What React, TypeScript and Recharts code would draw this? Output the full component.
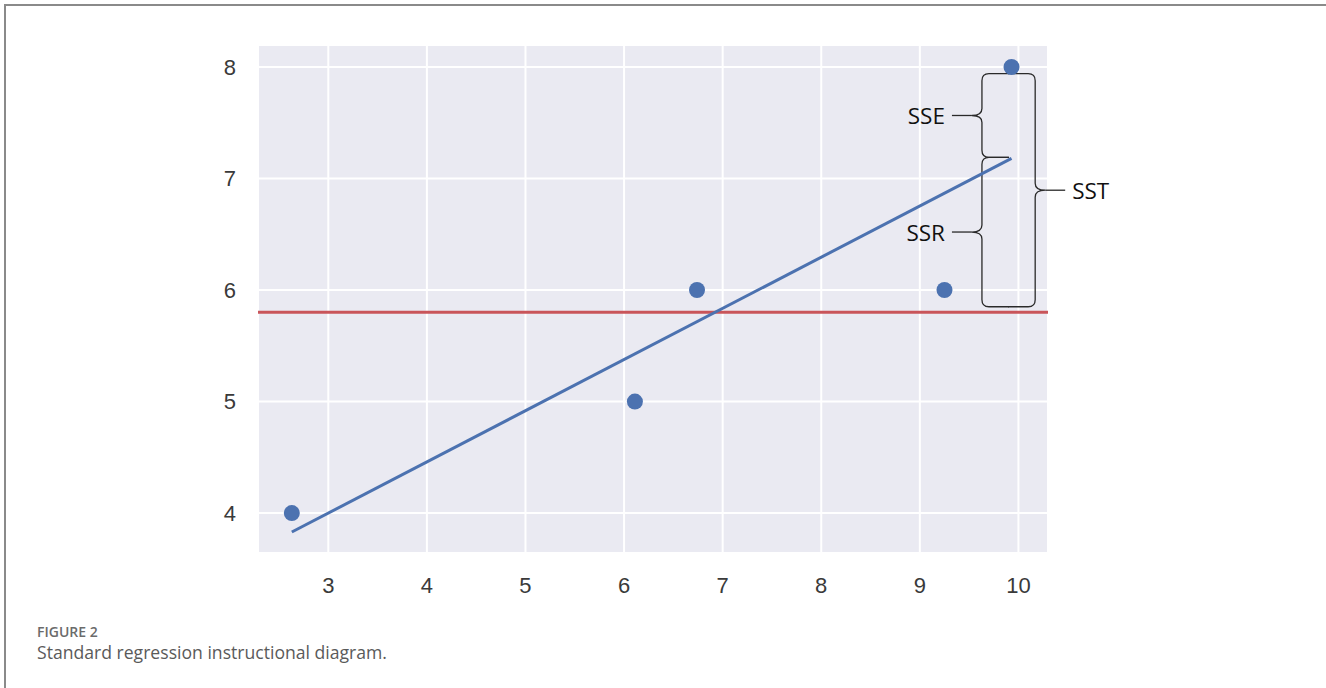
import React from 'react';
import { ScatterChart, Scatter, XAxis, YAxis, CartesianGrid, ReferenceLine } from 'recharts';

// observed points
const xValues = [2.63, 6.11, 6.74, 9.25, 9.93];
const yValues = [4, 5, 6, 6, 8];

// fitted regression line end points
const fitX = [2.63, 9.93];
const fitY = [3.83, 7.18];

// mean of y
const meanY = 5.8;

const xTicks = [3, 4, 5, 6, 7, 8, 9, 10];
const yTicks = [4, 5, 6, 7, 8];

// brace annotations (data coordinates)
const braceLabels = ['SSE', 'SSR', 'SST'];
const braceX = [9.63, 9.63, 10.17];
const braceTop = [7.94, 7.19, 7.94];
const braceBottom = [7.19, 5.85, 5.85];
const braceSide = ['left', 'left', 'right'];

const points = xValues.map((x, i) => ({ x, y: yValues[i] }));
const fitLine = fitX.map((x, i) => ({ x, y: fitY[i] }));

const BLUE = '#4c72b0';
const RED = '#c9555a';

const makeBrace = (label: string, side: string) => (p: any) => {
  const x = p.x1;
  const yt = Math.min(p.y1, p.y2);
  const yb = Math.max(p.y1, p.y2);
  const ym = (yt + yb) / 2;
  const s = side === 'left' ? 1 : -1; // hooks point toward +s, tip toward -s
  const h = 27;
  const r = 7;
  const d = 10;
  const path = [
    `M ${x + s * h} ${yt}`,
    `L ${x + s * r} ${yt}`,
    `Q ${x} ${yt} ${x} ${yt + r}`,
    `L ${x} ${ym - r}`,
    `Q ${x} ${ym} ${x - s * d} ${ym}`,
    `Q ${x} ${ym} ${x} ${ym + r}`,
    `L ${x} ${yb - r}`,
    `Q ${x} ${yb} ${x + s * r} ${yb}`,
    `L ${x + s * h} ${yb}`,
  ].join(' ');
  const tipX = x - s * d;
  const leadEnd = tipX - s * 20;
  return (
    <g>
      <path d={path} fill="none" stroke="#2a2a2a" strokeWidth={1.3} />
      <line x1={tipX} y1={ym} x2={leadEnd} y2={ym} stroke="#2a2a2a" strokeWidth={1.3} />
      <text
        x={leadEnd - s * 7}
        y={ym}
        textAnchor={side === 'left' ? 'end' : 'start'}
        dominantBaseline="central"
        fontFamily="'Open Sans', sans-serif"
        fontSize={22.5}
        fill="#111"
      >
        {label}
      </text>
    </g>
  );
};

const tickStyle = { fontFamily: "'Liberation Sans', Arial, sans-serif", fontSize: 22, fill: '#3a3a3a' };

export default function App() {
  return (
    <div style={{ position: 'absolute', left: 0, top: 0, width: 1326, height: 688, background: '#fff', overflow: 'hidden' }}>
      <div
        style={{
          position: 'absolute',
          left: 4,
          top: 4,
          width: 1340,
          height: 700,
          borderTop: '2px solid #8a8a8a',
          borderLeft: '2px solid #8a8a8a',
        }}
      />
      <div style={{ position: 'absolute', left: 0, top: 0 }}>
        <ScatterChart width={1326} height={688} margin={{ top: 45, right: 278, bottom: 0, left: 0 }}>
          <CartesianGrid fill="#eaeaf2" stroke="#ffffff" strokeWidth={2} />
          <XAxis
            type="number"
            dataKey="x"
            domain={[2.287, 10.3]}
            ticks={xTicks}
            allowDataOverflow
            height={135}
            axisLine={false}
            tickLine={false}
            tickSize={0}
            tickMargin={24}
            tick={tickStyle}
          />
          <YAxis
            type="number"
            dataKey="y"
            domain={[3.642, 8.197]}
            ticks={yTicks}
            allowDataOverflow
            width={258}
            axisLine={false}
            tickLine={false}
            tickSize={0}
            tickMargin={22}
            tick={tickStyle}
          />
          <ReferenceLine y={meanY} stroke={RED} strokeWidth={3} />
          <Scatter
            data={fitLine}
            line={{ stroke: BLUE, strokeWidth: 3 }}
            shape={() => <g />}
            isAnimationActive={false}
          />
          <Scatter
            data={points}
            fill={BLUE}
            shape={(p: any) => <circle cx={p.cx} cy={p.cy} r={8} fill={BLUE} />}
            isAnimationActive={false}
          />
          {braceLabels.map((label, i) => (
            <ReferenceLine
              key={label}
              ifOverflow="visible"
              segment={[
                { x: braceX[i], y: braceTop[i] },
                { x: braceX[i], y: braceBottom[i] },
              ]}
              shape={makeBrace(label, braceSide[i])}
            />
          ))}
        </ScatterChart>
      </div>
      <div
        style={{
          position: 'absolute',
          left: 37,
          top: 625,
          fontFamily: "'Open Sans', sans-serif",
          fontSize: 14,
          lineHeight: '14px',
          fontWeight: 600,
          color: '#6b6b6b',
        }}
      >
        FIGURE 2
      </div>
      <div
        style={{
          position: 'absolute',
          left: 37,
          top: 643,
          fontFamily: "'Open Sans', sans-serif",
          fontSize: 17.6,
          lineHeight: '18px',
          color: '#5a5a5a',
        }}
      >
        Standard regression instructional diagram.
      </div>
    </div>
  );
}
